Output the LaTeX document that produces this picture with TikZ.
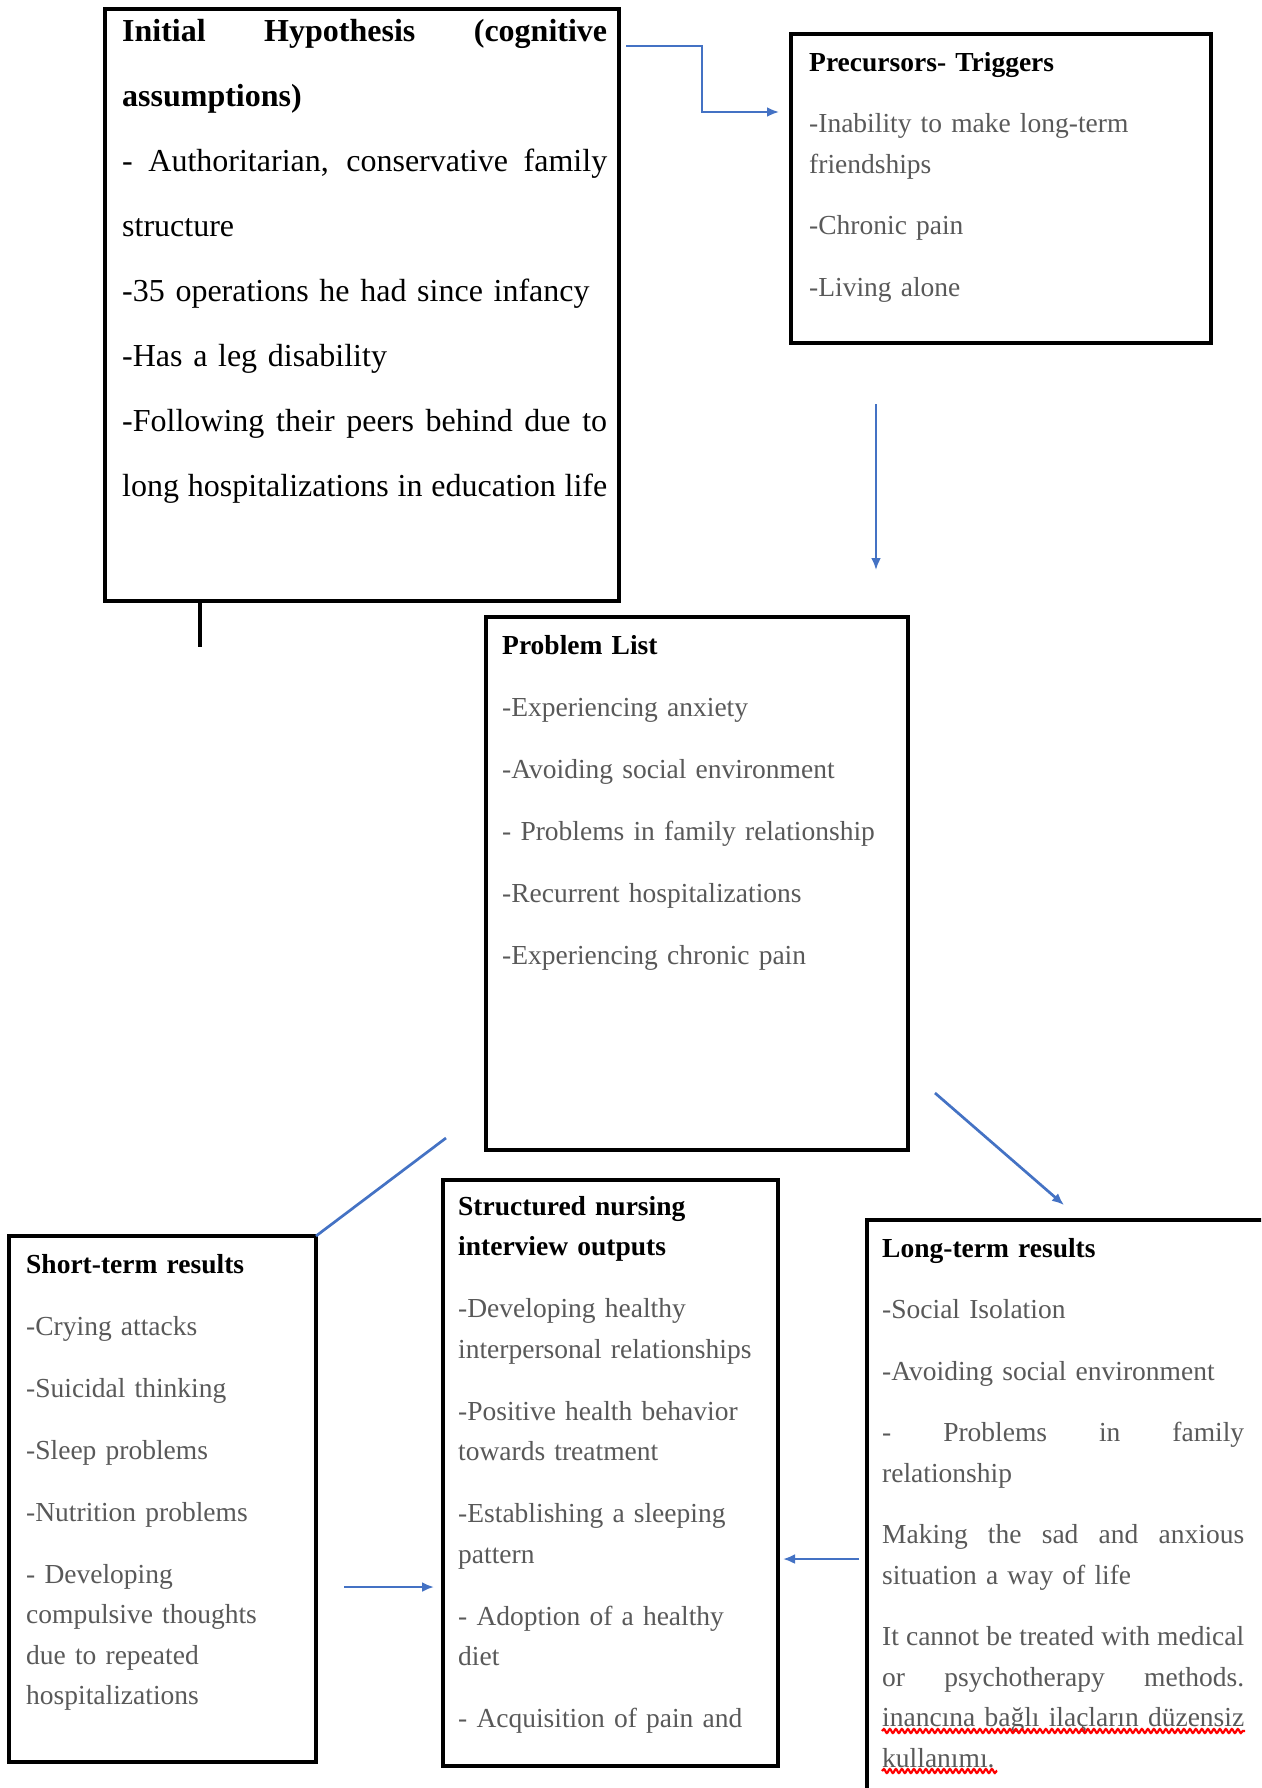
\documentclass[tikz,border=0pt]{standalone}
\usepackage{fontspec}
\setmainfont{Liberation Serif}
\usetikzlibrary{arrows.meta,decorations.pathmorphing,calc}
\definecolor{wordblue}{HTML}{4472C4}
\definecolor{itemgray}{gray}{0.35}
\newcommand\jl[2]{{\spaceskip=0.25em plus 1fil minus 0.12em\relax\makebox[#1][s]{#2}}}
\newcommand\tstrut{\rule{0pt}{30pt}}
\begin{document}
\begin{tikzpicture}[x=1pt,y=-1pt,
  box/.style={draw=black, line width=4pt, inner sep=0pt, outer sep=0pt, anchor=north west},
  txt/.style={anchor=north west, inner sep=0pt, text width=520pt, align=left},
  big/.style={font=\fontsize{32}{65}\selectfont},
  small/.style={font=\fontsize{27.5}{40.5}\selectfont, text=itemgray},
  conn/.style={draw=wordblue, line width=2.7pt},
  arr/.style={conn, -{Latex[length=12pt,width=10pt]}},
  stub/.style={draw=black, line width=3.5pt},
  wavy/.style={draw=red, line width=2.2pt, decorate, decoration={snake, amplitude=2pt, segment length=6pt}}]
\useasboundingbox (0,0) rectangle (1261,1788);
\clip (0,0) rectangle (1261,1788);
\fill[white] (0,0) rectangle (1261,1788);

% boxes
\node[box, minimum width=514pt, minimum height=592pt] (IH) at (105,9) {};
\node[box, minimum width=420pt, minimum height=309pt] (PT) at (791,34) {};
\node[box, minimum width=422pt, minimum height=533pt] (PL) at (486,617) {};
\node[box, minimum width=307pt, minimum height=526pt] (ST) at (9,1236) {};
\node[box, minimum width=335pt, minimum height=586pt] (SN) at (443,1180) {};
\node[box, minimum width=500pt, minimum height=700pt] (LT) at (867,1220) {};

% texts
\node[txt, big] (IHt) at (122,11) {\tstrut\textbf{\jl{485pt}{Initial Hypothesis (cognitive}}\\
\textbf{assumptions)}\\
\jl{485pt}{- Authoritarian, conservative family}\\
structure\\
-35 operations he had since infancy\\
-Has a leg disability\\
\jl{485pt}{-Following their peers behind due to}\\
\jl{485pt}{long hospitalizations in education life}};

\node[txt, small] (PTt) at (809,41) {\tstrut\textcolor{black}{\textbf{Precursors- Triggers}}\\[21pt]
-Inability to make long-term\\
friendships\\[21pt]
-Chronic pain\\[21pt]
-Living alone};

\node[txt, small] (PLt) at (502,624) {\tstrut\textcolor{black}{\textbf{Problem List}}\\[21.5pt]
-Experiencing anxiety\\[21.5pt]
-Avoiding social environment\\[21.5pt]
- Problems in family relationship\\[21.5pt]
-Recurrent hospitalizations\\[21.5pt]
-Experiencing chronic pain};

\node[txt, small] (STt) at (26,1243) {\tstrut\textcolor{black}{\textbf{Short-term results}}\\[21.5pt]
-Crying attacks\\[21.5pt]
-Suicidal thinking\\[21.5pt]
-Sleep problems\\[21.5pt]
-Nutrition problems\\[21.5pt]
- Developing\\
compulsive thoughts\\
due to repeated\\
hospitalizations};

\node[txt, small] (SNt) at (458,1185) {\tstrut\textcolor{black}{\textbf{Structured nursing}}\\
\textcolor{black}{\textbf{interview outputs}}\\[21.5pt]
-Developing healthy\\
interpersonal relationships\\[21.5pt]
-Positive health behavior\\
towards treatment\\[21.5pt]
-Establishing a sleeping\\
pattern\\[21.5pt]
- Adoption of a healthy\\
diet\\[21.5pt]
- Acquisition of pain and};

\node[txt, small] (LTt) at (882,1227) {\tstrut\textcolor{black}{\textbf{Long-term results}}\\[21pt]
-Social Isolation\\[21pt]
-Avoiding social environment\\[21pt]
\jl{362pt}{- Problems in family}\\
relationship\\[21pt]
\jl{362pt}{Making the sad and anxious}\\
situation a way of life\\[21pt]
\jl{362pt}{It cannot be treated with medical}\\
\jl{362pt}{or psychotherapy methods.}\\
\jl{362pt}{inancına bağlı ilaçların düzensiz}\\
kullanımı.};

% spell-check underlines
\draw[wavy] (882,1731) -- (1245,1731);
\draw[wavy] (882,1771) -- (997,1771);

% connectors
\coordinate (a1) at (626,46);
\coordinate (a2) at (779,112);
\draw[arr] (a1) -- ++(76,0) |- (a2);

\coordinate (b1) at (876,404);
\coordinate (b2) at (876,570);
\draw[arr] (b1) -- (b2);

\coordinate (c1) at (446,1138);
\draw[conn] (c1) -- (ST.north east);

\coordinate (d1) at (935,1093);
\coordinate (d2) at (1064,1205);
\draw[arr] (d1) -- (d2);

\coordinate (e1) at (344,1587);
\coordinate (e2) at (434,1587);
\draw[arr] (e1) -- (e2);

\coordinate (f1) at (859,1559);
\coordinate (f2) at (783,1559);
\draw[arr] (f1) -- (f2);

\coordinate (g1) at (200,647);
\draw[stub] (IH.south -| g1) -- (g1);
\end{tikzpicture}
\end{document}
